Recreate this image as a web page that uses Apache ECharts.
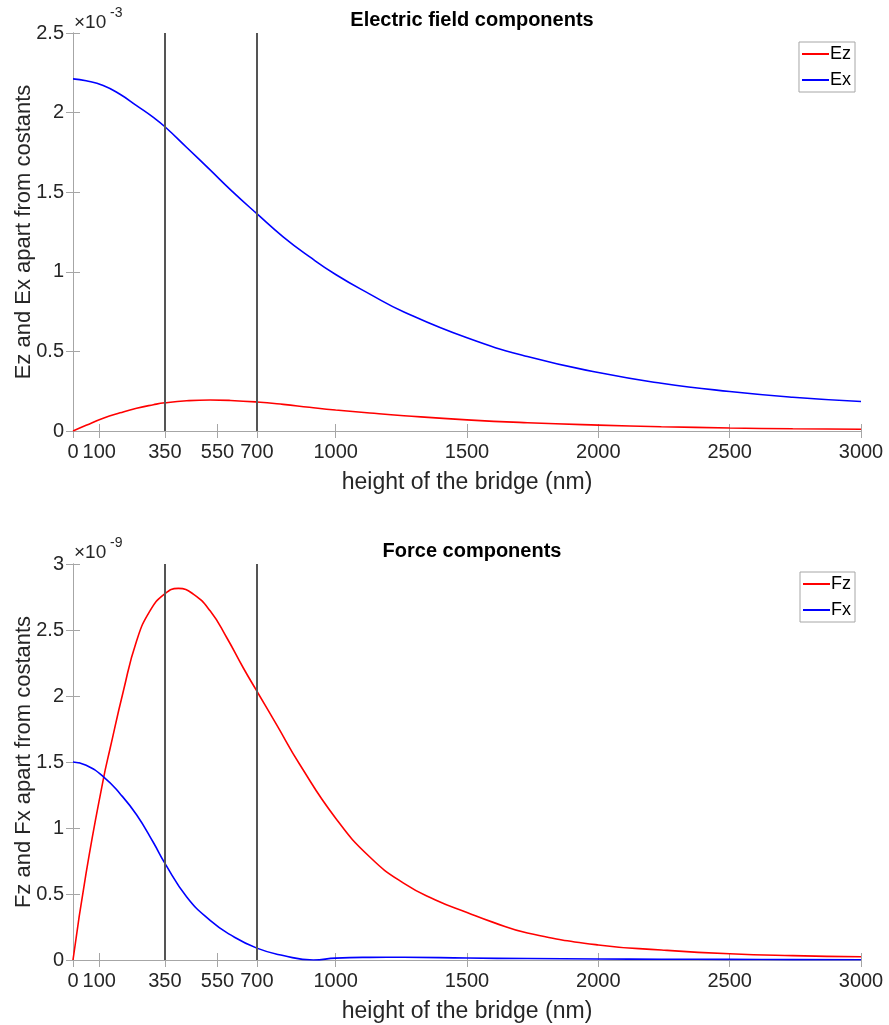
<!DOCTYPE html>
<html>
<head>
<meta charset="utf-8">
<script src="https://cdn.jsdelivr.net/npm/echarts@6/dist/echarts.min.js"></script>
<style>
  html, body { margin: 0; padding: 0; background: #fff; }
  #chart { width: 889px; height: 1025px; }
</style>
</head>
<body>
<div id="chart"></div>
<script>
// x ticks shared by both plots
var xTicks = [0, 100, 350, 550, 700, 1000, 1500, 2000, 2500, 3000];
var guideLines = [350, 700];

// electric field (x10^-3)
var heightE = [0, 50, 115, 179, 242, 306, 350, 433, 522, 600, 700, 800, 900, 1000, 1130, 1260, 1500, 1730, 2000, 2240, 2500, 2740, 3000];
var ezValues = [0, 0.036, 0.08, 0.114, 0.143, 0.165, 0.177, 0.19, 0.195, 0.192, 0.182, 0.167, 0.149, 0.132, 0.113, 0.096, 0.07, 0.052, 0.037, 0.027, 0.019, 0.014, 0.011];
var exValues = [2.212, 2.2, 2.17, 2.115, 2.044, 1.97, 1.911, 1.781, 1.64, 1.515, 1.365, 1.22, 1.095, 0.983, 0.86, 0.748, 0.585, 0.468, 0.367, 0.3, 0.248, 0.212, 0.185];

// force (x10^-9)
var heightFz = [0, 50, 115, 141, 192, 242, 293, 348, 401, 458, 522, 585, 648, 699, 775, 864, 1000, 1130, 1260, 1380, 1500, 1600, 1730, 2000, 2240, 2500, 2740, 3000];
var fzValues = [0, 0.66, 1.365, 1.6, 2.04, 2.417, 2.645, 2.772, 2.815, 2.772, 2.645, 2.443, 2.214, 2.04, 1.783, 1.479, 1.074, 0.78, 0.58, 0.455, 0.36, 0.285, 0.205, 0.114, 0.076, 0.047, 0.033, 0.025];
var heightFx = [0, 50, 115, 179, 242, 306, 350, 433, 522, 600, 700, 800, 915, 1000, 1130, 1260, 1500, 1730, 2000, 2240, 2500, 2740, 3000];
var fxValues = [1.5, 1.475, 1.39, 1.26, 1.1, 0.89, 0.732, 0.478, 0.3, 0.19, 0.09, 0.034, 0, 0.014, 0.02, 0.021, 0.015, 0.011, 0.008, 0.006, 0.005, 0.003, 0.002];

function pairs(xs, ys) {
  return xs.map(function (x, i) { return [x, ys[i]]; });
}

var font = '"Liberation Sans", Arial, sans-serif';
var textColor = '#262626';
var boxColor = '#a6a6a6';

function xAxisPair(gridIndex) {
  return [
    {
      type: 'value', gridIndex: gridIndex, min: 0, max: 3000, position: 'bottom',
      name: 'height of the bridge (nm)', nameLocation: 'middle', nameGap: 40, nameMoveOverlap: false,
      nameTextStyle: { fontSize: 23, color: textColor, fontFamily: font },
      axisLine: { show: true, lineStyle: { color: boxColor, width: 1 } },
      axisTick: { show: true, inside: true, length: 7, customValues: xTicks, lineStyle: { color: boxColor } },
      axisLabel: { customValues: xTicks, margin: 11, fontSize: 20, color: textColor, fontFamily: font,
        formatter: function (v) { return String(v); } },
      splitLine: { show: false }
    },
    {
      type: 'value', gridIndex: gridIndex, min: 0, max: 3000, position: 'top',
      axisLine: { show: true, lineStyle: { color: boxColor, width: 1 } },
      axisTick: { show: true, inside: true, length: 7, customValues: xTicks, lineStyle: { color: boxColor } },
      axisLabel: { show: false },
      splitLine: { show: false }
    }
  ];
}

function yAxisPair(gridIndex, max, name) {
  return [
    {
      type: 'value', gridIndex: gridIndex, min: 0, max: max, interval: 0.5, position: 'left',
      name: name, nameLocation: 'middle', nameGap: 38, nameRotate: 90, nameMoveOverlap: false,
      nameTextStyle: { fontSize: 22, color: textColor, fontFamily: font },
      axisLine: { show: true, lineStyle: { color: boxColor, width: 1 } },
      axisTick: { show: true, inside: true, length: 7, lineStyle: { color: boxColor } },
      axisLabel: { margin: 9, fontSize: 20, color: textColor, fontFamily: font },
      splitLine: { show: false }
    },
    {
      type: 'value', gridIndex: gridIndex, min: 0, max: max, interval: 0.5, position: 'right',
      axisLine: { show: true, lineStyle: { color: boxColor, width: 1 } },
      axisTick: { show: true, inside: true, length: 7, lineStyle: { color: boxColor } },
      axisLabel: { show: false },
      splitLine: { show: false }
    }
  ];
}

function curve(name, xi, yi, data, color, withGuides) {
  var s = {
    name: name, type: 'line', xAxisIndex: xi, yAxisIndex: yi,
    data: data, smooth: 0.5,
    symbol: 'none', showSymbol: false,
    lineStyle: { color: color, width: 1.6 },
    itemStyle: { color: color },
    animation: false, z: 3
  };
  if (withGuides) {
    s.markLine = {
      silent: true, symbol: 'none', animation: false,
      label: { show: false },
      lineStyle: { color: '#555555', width: 2, type: 'solid' },
      data: guideLines.map(function (v) { return { xAxis: v }; })
    };
  }
  return s;
}

function legend(top, names) {
  return {
    data: names, orient: 'vertical', right: 34, top: top,
    icon: 'rect', itemWidth: 27, itemHeight: 2,
    backgroundColor: '#fff', borderColor: '#a6a6a6', borderWidth: 1,
    padding: [3, 4, 3, 3], itemGap: 8,
    textStyle: { fontSize: 18, color: '#000', fontFamily: font, padding: [0, 0, 0, -4] }
  };
}

var chart = echarts.init(document.getElementById('chart'));
chart.setOption({
  backgroundColor: '#fff',
  animation: false,
  title: [
    { text: 'Electric field components', left: 467, top: 5, textAlign: 'center',
      textStyle: { fontSize: 20, fontWeight: 'bold', color: '#000', fontFamily: font } },
    { text: 'Force components', left: 467, top: 536, textAlign: 'center',
      textStyle: { fontSize: 20, fontWeight: 'bold', color: '#000', fontFamily: font } }
  ],
  legend: [legend(42, ['Ez', 'Ex']), legend(572, ['Fz', 'Fx'])],
  grid: [
    { left: 73, right: 28, top: 33, height: 398, outerBoundsMode: 'none', containLabel: false },
    { left: 73, right: 28, top: 564, height: 396, outerBoundsMode: 'none', containLabel: false }
  ],
  xAxis: xAxisPair(0).concat(xAxisPair(1)),
  yAxis: yAxisPair(0, 2.5, 'Ez and Ex apart from costants').concat(yAxisPair(1, 3, 'Fz and Fx apart from costants')),
  graphic: [
    { type: 'text', left: 74, top: 13, style: { text: '×10', fontSize: 19, fill: textColor, fontFamily: font } },
    { type: 'text', left: 110, top: 6, style: { text: '-3', fontSize: 14, fill: textColor, fontFamily: font } },
    { type: 'text', left: 74, top: 543, style: { text: '×10', fontSize: 19, fill: textColor, fontFamily: font } },
    { type: 'text', left: 110, top: 536, style: { text: '-9', fontSize: 14, fill: textColor, fontFamily: font } }
  ],
  series: [
    curve('Ez', 0, 0, pairs(heightE, ezValues), '#ff0000', true),
    curve('Ex', 0, 0, pairs(heightE, exValues), '#0000ff', false),
    curve('Fz', 2, 2, pairs(heightFz, fzValues), '#ff0000', true),
    curve('Fx', 2, 2, pairs(heightFx, fxValues), '#0000ff', false)
  ]
});
</script>
</body>
</html>
